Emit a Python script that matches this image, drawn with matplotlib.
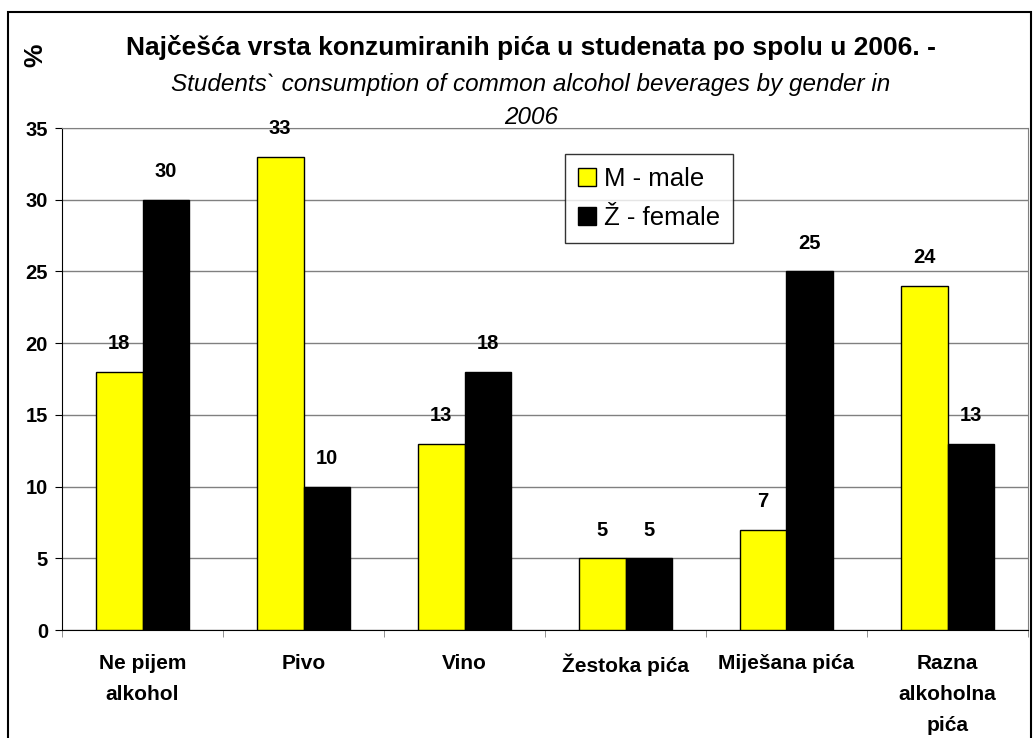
import numpy as np
import matplotlib
matplotlib.use("Agg")
import matplotlib.pyplot as plt
from matplotlib.patches import Rectangle

plt.rcParams['font.family'] = ['Liberation Sans', 'DejaVu Sans']

categories = ['Ne pijem\nalkohol', 'Pivo', 'Vino', 'Žestoka pića',
              'Miješana pića', 'Razna\nalkoholna\npića']
male = [18, 33, 13, 5, 7, 24]
female = [30, 10, 18, 5, 25, 13]
legend_labels = ['M - male', 'Ž - female']

fig = plt.figure(figsize=(10.34, 7.38), dpi=100)
ax = fig.add_axes([62 / 1034, 1 - 630 / 738, 966 / 1034, 502 / 738])

x = np.arange(len(categories))
w = 0.29
b1 = ax.bar(x - w / 2, male, w, color='#ffff00', edgecolor='black', linewidth=1,
            label=legend_labels[0], zorder=3)
b2 = ax.bar(x + w / 2, female, w, color='black', edgecolor='black', linewidth=1,
            label=legend_labels[1], zorder=3)

for bars in (b1, b2):
    for r in bars:
        ax.text(r.get_x() + r.get_width() / 2, r.get_height() + 1.3,
                '%d' % r.get_height(), ha='center', va='bottom',
                fontsize=14.5, fontweight='bold')

ax.set_xlim(-0.5, len(categories) - 0.5)
ax.set_ylim(0, 35)
ax.set_yticks(range(0, 36, 5))
ax.yaxis.grid(True, color='#808080', linewidth=1, zorder=0)
ax.set_xticks(x)
ax.set_xticklabels(categories, fontsize=15, fontweight='bold', linespacing=1.8)
ax.tick_params(axis='x', length=0, pad=17)
ax.set_xticks(np.arange(-0.5, len(categories), 1), minor=True)
ax.tick_params(axis='x', which='minor', length=5, direction='out', color='#808080')
ax.tick_params(axis='y', length=5, direction='out', labelsize=14.5, pad=5)
for t in ax.get_yticklabels():
    t.set_fontweight('bold')

for s in ('top', 'right'):
    ax.spines[s].set_color('#808080')
for s in ('left', 'bottom'):
    ax.spines[s].set_color('black')

leg = ax.legend(loc='upper left', bbox_to_anchor=(503 / 966, 1 - 26 / 502),
                fontsize=18.5, frameon=True, fancybox=False, edgecolor='black',
                handlelength=0.7, handleheight=0.7, handletextpad=0.3,
                borderpad=0.5, labelspacing=0.6, borderaxespad=0)
leg.get_frame().set_linewidth(1)

fig.text(531 / 1034, 1 - 47 / 738,
         'Najčešća vrsta konzumiranih pića u studenata po spolu u 2006. -',
         ha='center', va='center', fontsize=19, fontweight='bold')
fig.text(531 / 1034, 1 - 85 / 738,
         'Students` consumption of common alcohol beverages by gender in',
         ha='center', va='center', fontsize=17.5, style='italic')
fig.text(531 / 1034, 1 - 117 / 738, '2006',
         ha='center', va='center', fontsize=17.5, style='italic')
fig.text(35 / 1034, 1 - 55 / 738, '%', rotation=90, ha='center', va='center',
         fontsize=19, fontweight='bold')

fig.patches.append(Rectangle((8 / 1034, -0.02), 1023 / 1034, 1 - 12 / 738 + 0.02,
                             transform=fig.transFigure, fill=False,
                             edgecolor='black', linewidth=1.5))

fig.savefig('out.png', dpi=100)
